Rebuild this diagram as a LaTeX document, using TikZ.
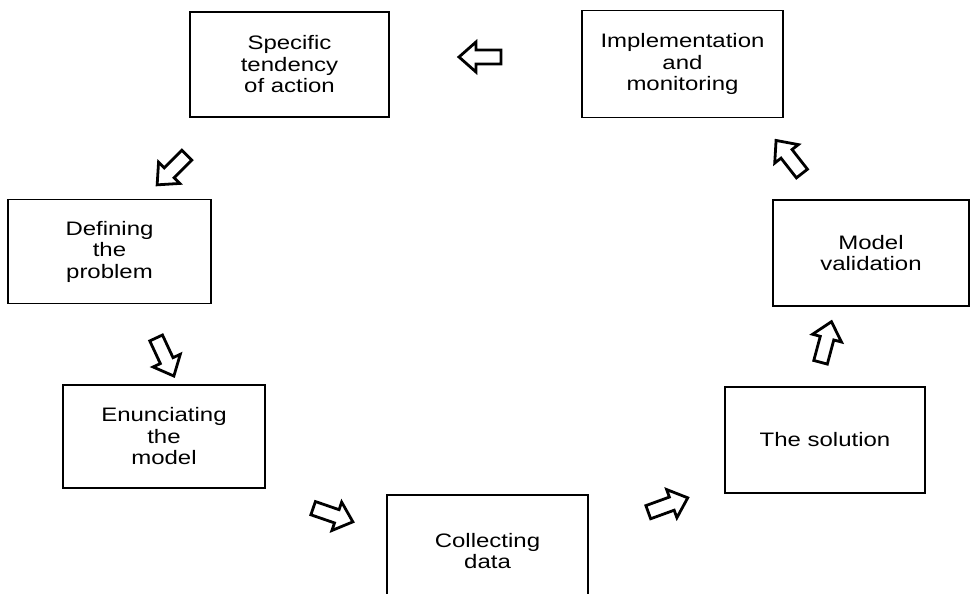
\documentclass[tikz,border=0pt]{standalone}
\usepackage{fontspec}
\setmainfont{Liberation Sans}[FakeStretch=1.23]
\begin{document}
\begin{tikzpicture}[x=1pt,y=-1pt,
  stage/.style={draw=black, line width=1.4pt, fill=white, inner sep=0pt, align=center,
    font=\fontsize{19.5}{21.5}\selectfont},
  pics/blockarrow/.style={code={
    \draw[line width=2.8pt, line join=miter, fill=white]
      (-21pt,-7pt) -- (4pt,-7pt) -- (4pt,-15pt) -- (21pt,0pt)
      -- (4pt,15pt) -- (4pt,7pt) -- (-21pt,7pt) -- cycle;}}]
\useasboundingbox (0,0) rectangle (972,594);
\clip (0,0) rectangle (972,594);
\fill[white] (0,0) rectangle (972,594);
\node[stage, minimum width=199pt, minimum height=105pt] (spec) at (289.5,64.5) {Specific\\tendency\\of action};
\node[stage, minimum width=201pt, minimum height=107pt] (impl) at (682.5,64) {Implementation\\and\\monitoring};
\node[stage, minimum width=203pt, minimum height=104pt] (def) at (109.5,251.5) {Defining\\the\\problem};
\node[stage, minimum width=196pt, minimum height=106pt] (val) at (871,253) {Model\\validation};
\node[stage, minimum width=202pt, minimum height=103pt] (enun) at (164,436.5) {Enunciating\\the\\model};
\node[stage, minimum width=200pt, minimum height=106pt] (sol) at (825,440) {The solution};
\node[stage, minimum width=201pt, minimum height=112pt] (coll) at (487.5,551) {Collecting\\data};
\pic[rotate=180] at (480,57) {blockarrow};
\pic[rotate=225] at (172,170) {blockarrow};
\pic[rotate=295] at (165,357) {blockarrow};
\pic[rotate=341] at (333,515) {blockarrow};
\pic[rotate=20] at (668,505) {blockarrow};
\pic[rotate=75] at (826,342) {blockarrow};
\pic[rotate=128] at (789,157) {blockarrow};
\end{tikzpicture}
\end{document}
